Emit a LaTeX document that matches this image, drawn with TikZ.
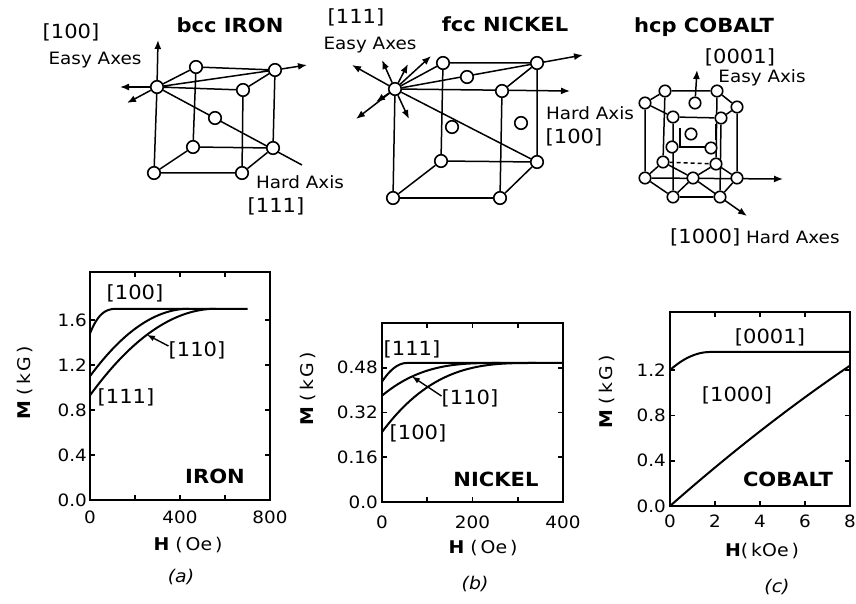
\documentclass[tikz,border=0pt]{standalone}
\usepackage{fontspec}
\usepackage{graphicx}
\setmainfont{DejaVu Sans}[FakeStretch=1.08]
\usetikzlibrary{arrows.meta}
\pgfdeclarelayer{bg}
\pgfsetlayers{bg,main}
\tikzset{
 lbl/.style={font=\fontsize{17}{19}\selectfont, inner sep=0pt},
 brl/.style={font=\fontsize{19.5}{21}\selectfont, inner sep=0pt},
 ttl/.style={font=\fontsize{19.5}{21}\selectfont\bfseries, inner sep=0pt},
 tick/.style={font=\fontsize{17}{18}\selectfont, inner sep=0pt},
 axl/.style={font=\fontsize{17.5}{19}\selectfont, inner sep=0pt},
 atom/.style={circle, draw, fill=white, line width=1.6pt, minimum size=12.5pt, inner sep=0pt},
 hatom/.style={atom, minimum size=11.5pt},
 edge/.style={line width=1.5pt},
 axarrow/.style={line width=1.5pt, -{Latex[length=9pt,width=7pt]}},
 ptr/.style={line width=1.4pt, -{Latex[length=8pt,width=6pt]}},
 curve/.style={line width=2pt},
 frame/.style={line width=2pt},
 tk/.style={line width=1.6pt},
}
\begin{document}
\begin{tikzpicture}[x=1pt,y=-1pt]
\useasboundingbox (0,0) rectangle (856,604);

%================ bcc IRON =================
\node[atom] (p1) at (157,87) {};
\node[atom] (p2) at (196,67) {};
\node[atom] (p3) at (275,70) {};
\node[atom] (p4) at (243,90) {};
\node[atom] (pc) at (215,118) {};
\node[atom] (p5) at (193,147) {};
\node[atom] (p6) at (273,148) {};
\node[atom] (p7) at (154,173) {};
\node[atom] (p8) at (242,173) {};
\coordinate (bh) at (302,165);
\coordinate (be1) at (158,40);
\coordinate (be2) at (120,87);
\coordinate (be3) at (127,103);
\coordinate (be4) at (307,65);
\node[ttl] (tbcc) at (230,25) {bcc IRON};
\node[brl] (bl100) at (71,32) {[100]};
\node[lbl] (bleasy) at (95,60) {Easy Axes};
\node[lbl] (blhard) at (300,182) {Hard Axis};
\node[brl] (bl111) at (276,206) {[111]};

%================ fcc NICKEL =================
\node[atom] (q1) at (395,89) {};
\node[atom] (q2) at (443,63) {};
\node[atom] (q3) at (537,63) {};
\node[atom] (q4) at (502,91) {};
\node[atom] (qt) at (467,77) {};
\node[atom] (qr) at (521,123) {};
\node[atom] (qf) at (452,127) {};
\node[atom] (q5) at (441,161) {};
\node[atom] (q6) at (537,162) {};
\node[atom] (q7) at (393,198) {};
\node[atom] (q8) at (500,198) {};
\coordinate (fa1) at (583,55);
\coordinate (fa2) at (570,91);
\coordinate (fe1) at (352,65);
\coordinate (fe2) at (382,60);
\coordinate (fe3) at (408,64);
\coordinate (fe4) at (431,56);
\coordinate (fe5) at (356,119);
\coordinate (fe6) at (376,102);
\coordinate (fe7) at (409,119);
\node[ttl] (tfcc) at (505,24) {fcc NICKEL};
\node[brl] (fl111) at (356,17) {[111]};
\node[lbl] (fleasy) at (370,45) {Easy Axes};
\node[lbl] (flhard) at (590,113) {Hard Axis};
\node[brl] (fl100) at (574,137) {[100]};

%================ hcp COBALT =================
\node[hatom] (t1) at (645,103) {};
\node[hatom] (t2) at (665,91) {};
\node[hatom] (t3) at (717,91) {};
\node[hatom] (t4) at (737,107) {};
\node[hatom] (t5) at (721,118) {};
\node[hatom] (t6) at (673,117) {};
\node[hatom] (tc) at (695,103) {};
\node[hatom] (m1) at (691,134) {};
\node[hatom] (m2) at (711,148) {};
\node[hatom] (m3) at (672,147) {};
\node[hatom] (b1) at (645,178) {};
\node[hatom] (b2) at (663,162) {};
\node[hatom] (b3) at (716,164) {};
\node[hatom] (b4) at (737,178) {};
\node[hatom] (b5) at (720,197) {};
\node[hatom] (b6) at (673,197) {};
\node[hatom] (bc) at (693,178) {};
\coordinate (ha1) at (697,70);
\coordinate (ha2) at (783,179);
\coordinate (ha3) at (747,216);
\coordinate (hm1) at (680,128);
\coordinate (hm2) at (680,147);
\coordinate (hm3) at (705,147);
\coordinate (hm4) at (716,124);
\coordinate (hm5) at (716,140);
\node[ttl] (thcp) at (704,27) {hcp COBALT};
\node[brl] (hl0001) at (740,57) {[0001]};
\node[lbl] (hleasy) at (762,78) {Easy Axis};
\node[lbl, anchor=west] (hlhard) at (670,237) {\fontsize{19.5}{21}\selectfont[1000]\fontsize{17}{19}\selectfont{} Hard Axes};

\begin{pgfonlayer}{bg}
\fill[white] (0,0) rectangle (856,604);
% bcc
\draw[edge] (p1)--(p2) (p2)--(p3) (p3)--(p4) (p4)--(p1) (p1)--(p7) (p2)--(p5)
  (p3)--(p6) (p4)--(p8) (p7)--(p5) (p5)--(p6) (p6)--(p8) (p8)--(p7) (p1)--(p3);
\draw[edge] (p1) -- (bh);
\draw[axarrow] (p1) -- (be1);
\draw[axarrow] (p1) -- (be2);
\draw[axarrow] (p1) -- (be3);
\draw[axarrow] (p3) -- (be4);
% fcc
\draw[edge] (q1)--(q2) (q2)--(q3) (q3)--(q4) (q1)--(q7) (q2)--(q5) (q3)--(q6)
  (q4)--(q8) (q7)--(q8) (q8)--(q6) (q6)--(q5) (q5)--(q7) (q1)--(q6);
\draw[axarrow] (q1) -- (fa1);
\draw[axarrow] (q1) -- (fa2);
\foreach \e in {fe1,fe2,fe3,fe4,fe5,fe6,fe7} \draw[axarrow] (q1) -- (\e);
% hcp
\draw[edge] (t1)--(t2) (t2)--(t3) (t3)--(t4) (t4)--(t5) (t5)--(t6) (t6)--(t1)
  (b1)--(b2) (b3)--(b4) (b4)--(b5) (b5)--(b6) (b6)--(b1)
  (t1)--(b1) (t2)--(b2) (t3)--(b3) (t4)--(b4) (t5)--(b5) (t6)--(b6)
  (bc)--(b2) (bc)--(b3) (bc)--(b6);
\draw[edge, dash pattern=on 4pt off 3pt] (b2) -- (b3);
\draw[edge] (hm1) -- (hm2) -- (hm3) (hm4) -- (hm5);
\draw[axarrow] (tc) -- (ha1);
\draw[axarrow] (b1) -- (ha2);
\draw[axarrow] (bc) -- (ha3);
\end{pgfonlayer}

%================ plot (a) IRON =================
\begin{scope}[shift={(90,500)},x=0.225pt,y=112.5pt]
 \draw[frame] (0,0) rectangle (800,2.03);
 \foreach \tv in {200,400,600} {\draw[tk] (\tv,0) -- (\tv,0.045); \draw[tk] (\tv,2.03) -- (\tv,1.985);}
 \foreach \tv in {0.4,0.8,1.2,1.6} {\draw[tk] (0,\tv) -- (22,\tv); \draw[tk] (800,\tv) -- (778,\tv);}
 \foreach \tv [count=\i] in {0.0,0.4,0.8,1.2,1.6} \node[tick,anchor=east] (ay\i) at ([xshift=-3pt]0,\tv) {\tv};
 \foreach \tv [count=\i] in {0,400,800} \node[tick] (ax\i) at ([yshift=-17pt]\tv,0) {\tv};
 \draw[curve] plot[domain=0:130,samples=40] (\x,{1.7-0.22*(1-\x/130)^3}) -- (700,1.7);
 \draw[curve] plot[domain=0:440,samples=50] (\x,{1.7-0.6*(1-\x/440)^2});
 \draw[curve] plot[domain=0:560,samples=50] (\x,{1.7-0.77*(1-\x/560)^2});
 \coordinate (tipA) at (253,1.469);
\end{scope}
\node[brl] (la100) at (135,293) {[100]};
\node[brl] (la110) at (197,350) {[110]};
\node[brl] (la111) at (126,397) {[111]};
\node[ttl] (lairon) at (215,476) {IRON};
\draw[ptr] ([yshift=4pt]la110.west) -- (tipA);
\node[axl, rotate=90] (lam) at (25,383) {\textbf{M} (\,k\,G\,)};
\node[axl] (lah) at (188,545) {\textbf{H} (\,Oe\,)};
\node[axl, font=\fontsize{17.5}{19}\selectfont\itshape] (lacap) at (181,577) {(a)};

%================ plot (b) NICKEL =================
\begin{scope}[shift={(382,502)},x=0.4525pt,y=279.7pt]
 \draw[frame] (0,0) rectangle (400,0.64);
 \foreach \tv in {100,200,300} {\draw[tk] (\tv,0) -- (\tv,0.018); \draw[tk] (\tv,0.64) -- (\tv,0.622);}
 \foreach \tv in {0.16,0.32,0.48} {\draw[tk] (0,\tv) -- (11,\tv); \draw[tk] (400,\tv) -- (389,\tv);}
 \foreach \tv [count=\i] in {0.0,0.16,0.32,0.48} \node[tick,anchor=east] (by\i) at ([xshift=-4pt]0,\tv) {\tv};
 \foreach \tv [count=\i] in {0,200,400} \node[tick] (bx\i) at ([yshift=-20pt]\tv,0) {\tv};
 \draw[curve] plot[domain=0:55,samples=30] (\x,{0.497-0.067*(1-\x/55)^2}) -- (400,0.497);
 \draw[curve] plot[domain=0:260,samples=50] (\x,{0.497-0.117*(1-\x/260)^3});
 \draw[curve] plot[domain=0:340,samples=50] (\x,{0.497-0.247*(1-\x/340)^3});
 \coordinate (tipB) at (66,0.449);
\end{scope}
\node[brl] (lb111) at (412,349) {[111]};
\node[brl] (lb110) at (470,398) {[110]};
\node[brl] (lb100) at (418,433) {[100]};
\node[ttl] (lbnick) at (496,479) {NICKEL};
\draw[ptr] ([yshift=2pt]lb110.west) -- (tipB);
\node[axl, rotate=90] (lbm) at (308,389) {\textbf{M} (\,k\,G\,)};
\node[axl] (lbh) at (483,548) {\textbf{H} (\,Oe\,)};
\node[axl, font=\fontsize{17.5}{19}\selectfont\itshape] (lbcap) at (475,584) {(b)};

%================ plot (c) COBALT =================
\begin{scope}[shift={(670,506)},x=22.5pt,y=113.25pt]
 \draw[frame] (0,0) rectangle (8,1.713);
 \foreach \tv in {2,4,6} {\draw[tk] (\tv,0) -- (\tv,0.044); \draw[tk] (\tv,1.713) -- (\tv,1.669);}
 \foreach \tv in {0.4,0.8,1.2} {\draw[tk] (0,\tv) -- (0.22,\tv); \draw[tk] (8,\tv) -- (7.78,\tv);}
 \foreach \tv [count=\i] in {0.0,0.4,0.8,1.2} \node[tick,anchor=east] (cy\i) at ([xshift=-4pt]0,\tv) {\tv};
 \foreach \tv [count=\i] in {0,2,4,6,8} \node[tick] (cx\i) at ([yshift=-15pt]\tv,0) {\tv};
 \draw[curve] plot[domain=0:1.8,samples=30] (\x,{1.36-0.16*(1-\x/1.8)^2}) -- (8,1.36);
 \draw[curve] plot[domain=0:8,samples=40] (\x,{0.175*\x-0.0025*\x*\x});
\end{scope}
\node[brl] (lc0001) at (770,337) {[0001]};
\node[brl] (lc1000) at (737,395) {[1000]};
\node[ttl] (lccob) at (788,479) {COBALT};
\node[axl, rotate=90] (lcm) at (607,392) {\textbf{M} (\,k\,G\,)};
\node[axl] (lch) at (762,551) {\textbf{H}(\,kOe\,)};
\node[axl, font=\fontsize{17.5}{19}\selectfont\itshape] (lccap) at (777,587) {(c)};
\end{tikzpicture}
\end{document}
